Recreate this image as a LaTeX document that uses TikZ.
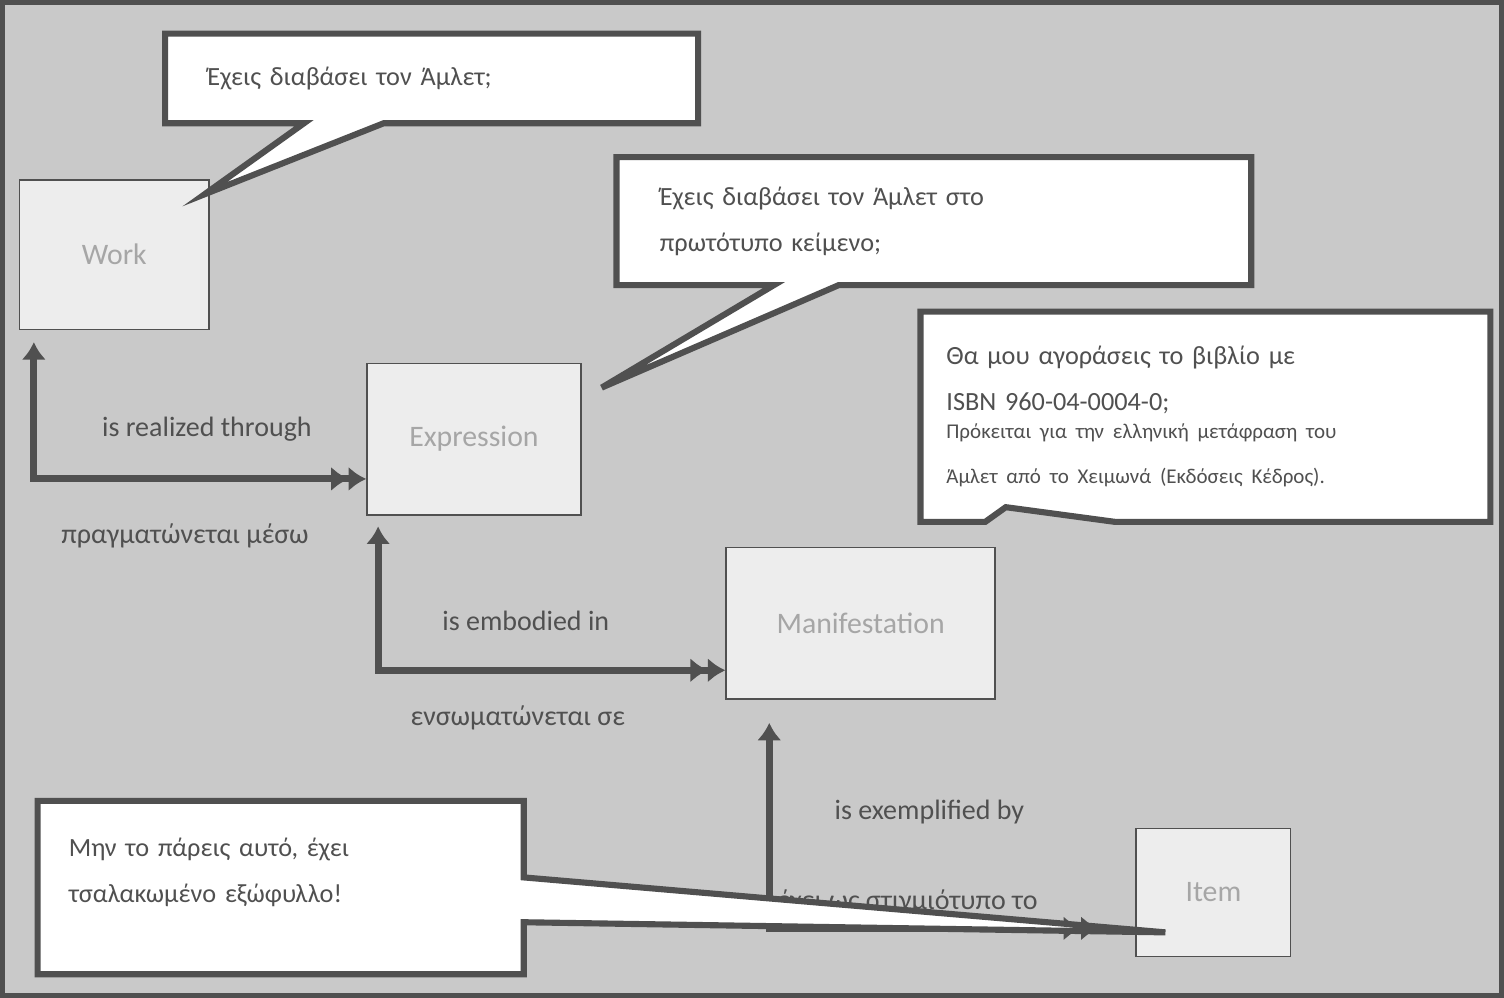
\documentclass[tikz,border=0pt]{standalone}
\usepackage{fontspec}
\setmainfont{Carlito}
\usetikzlibrary{arrows.meta,positioning,shapes.callouts}
\definecolor{bggray}{HTML}{C9C9C9}
\definecolor{boxgray}{HTML}{EDEDED}
\definecolor{ink}{HTML}{505050}
\tikzset{entity/.style = {rectangle, draw=ink, fill=boxgray, thick, text=gray!70, font=\fontsize{17}{20}\selectfont},
	bubble/.style = {rectangle callout, draw=ink, fill=white, line width=3.5pt, align=left, text=ink, anchor=north west, inner sep=6mm, font=\fontsize{15}{26}\selectfont},
	link/.style = {line width=4pt, draw=ink, {Latex[length=10pt,width=14pt]}-{Latex[length=10pt,width=14pt]Latex[length=10pt,width=14pt]}},
	rel/.style = {text=ink, font=\fontsize{16}{19}\selectfont}}
\begin{document}
\begin{tikzpicture}[x=0.02cm, y=-0.02cm]
 \draw[ink, line width=3pt, fill=bggray] (0,0) rectangle (1504,996);

 % entities
 \node (work) at (112,253) [entity, minimum width=3.8cm, minimum height=3cm] {Work};
 \node (expr) at (473,438) [entity, minimum width=4.3cm, minimum height=3.04cm] {Expression};
 \node (manif) at (861,623) [entity, minimum width=5.4cm, minimum height=3.04cm] {Manifestation};
 \node (item) at (1215,893) [entity, minimum width=3.1cm, minimum height=2.56cm] {Item};

 % relations
 \draw[link] ([xshift=0.3cm,yshift=-0.24cm]work.south west) |- ([yshift=-0.8cm]expr.west);
 \node (realized) at (205,428) [rel] {is realized through};
 \node (realizedgr) at (183,535) [rel] {πραγματώνεται μέσω};
 \draw[link] ([xshift=0.24cm,yshift=-0.22cm]expr.south west) |- ([yshift=-0.94cm]manif.west);
 \node (embodied) at (525,620) [rel] {is embodied in};
 \node (embodiedgr) at (517,718) [rel] {ενσωματώνεται σε};
 \draw[link] ([xshift=0.88cm,yshift=-0.46cm]manif.south west) |- ([xshift=-0.74cm,yshift=-0.72cm]item.west);
 \node (exempl) at (930,812) [rel] {is exemplified by};
 \node (examplgr) at (908,903) [rel] {έχει ως στιγμιότυπο το};

 % speech bubbles
 \node (ask1) at (160,28) [bubble, minimum width=10.7cm, minimum height=1.8cm, text width=9cm, callout absolute pointer={([xshift=-0.1cm,yshift=-0.3cm]work.north east)}, callout pointer width=1.6cm] {Έχεις διαβάσει τον Άμλετ;};
 \node (ask2) at (613,152) [bubble, minimum width=12.74cm, minimum height=2.46cm, text width=11cm, callout absolute pointer={([xshift=0.4cm,yshift=-0.5cm]expr.north east)}, callout pointer width=1.3cm] {Έχεις διαβάσει τον Άμλετ στο\\πρωτότυπο κείμενο;};
 \node (ask3) at (918,307) [bubble, minimum width=11.44cm, minimum height=4.22cm, text width=10.4cm, inner sep=4mm, callout absolute pointer={([xshift=0.2cm,yshift=0.8cm]manif.north east)}, callout pointer width=2.6cm] {Θα μου αγοράσεις το βιβλίο με\\ISBN 960-04-0004-0;\\[-4pt]{\fontsize{12}{20}\selectfont Πρόκειται για την ελληνική μετάφραση του\\Άμλετ από το Χειμωνά (Εκδόσεις Κέδρος).}};
 \node (ask4) at (32,798) [bubble, minimum width=9.76cm, minimum height=3.48cm, text width=8.5cm, text depth=1.6cm, inner sep=4mm, callout absolute pointer={([xshift=0.6cm,yshift=-0.8cm]item.west)}, callout pointer width=0.9cm] {Μην το πάρεις αυτό, έχει\\τσαλακωμένο εξώφυλλο!};
\end{tikzpicture}
\end{document}
